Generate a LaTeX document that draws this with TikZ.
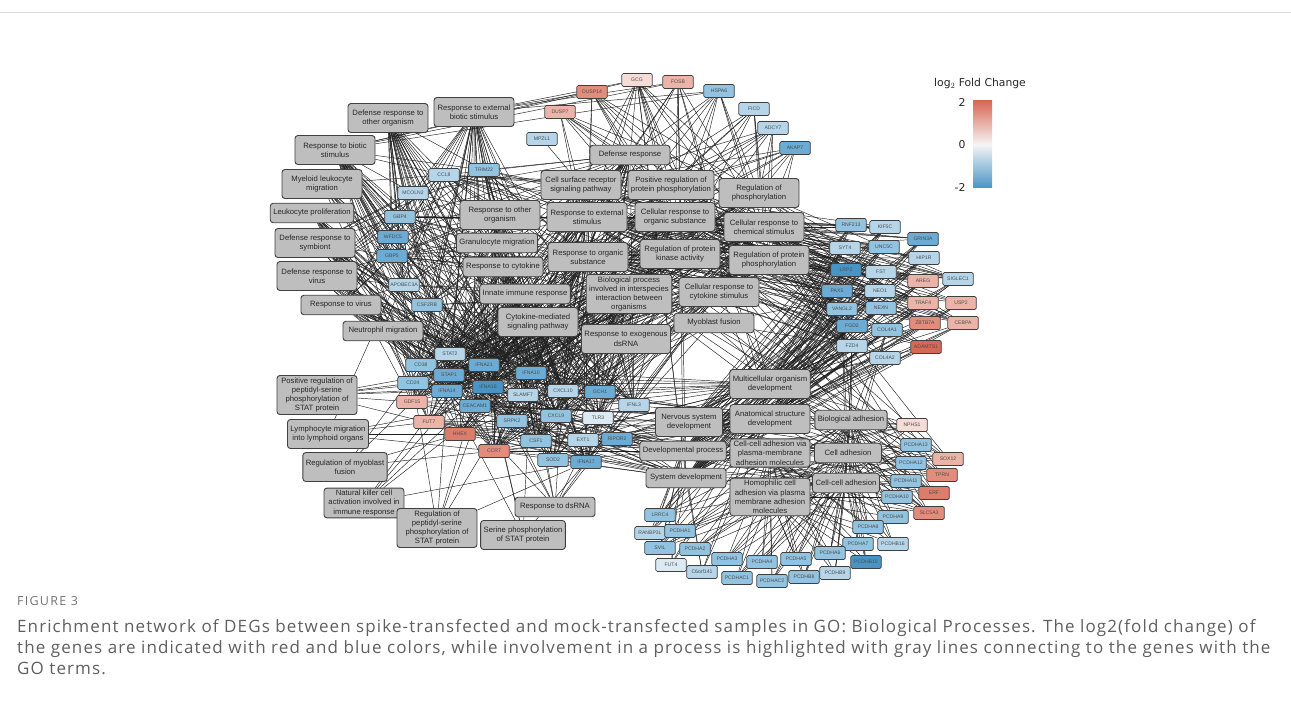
\documentclass[tikz,border=0pt]{standalone}
\usepackage{fontspec}
\setmainfont{Liberation Sans}
\newfontfamily\capfont[LetterSpace=6.5]{Open Sans}
\newfontfamily\fignofont[LetterSpace=10]{Open Sans}
\newfontfamily\legfont{DejaVu Sans}
\usetikzlibrary{backgrounds}

\definecolor{termfill}{HTML}{BEBEBE}
\definecolor{b1}{HTML}{DCEAF3}
\definecolor{b2}{HTML}{B6D5E9}
\definecolor{b3}{HTML}{92C3E0}
\definecolor{b4}{HTML}{6CABD3}
\definecolor{b5}{HTML}{4894C5}
\definecolor{r1}{HTML}{F5DCD7}
\definecolor{r2}{HTML}{ECB4A8}
\definecolor{r3}{HTML}{E28C7C}
\definecolor{r35}{HTML}{DD7C6B}
\definecolor{r4}{HTML}{D86856}
\definecolor{captext}{HTML}{5F5F5F}

\begin{document}
\begin{tikzpicture}[
    x=1pt, y=-1pt,
    term/.style={rectangle, rounded corners=3pt, draw=black!75, line width=0.9pt, fill=termfill,
                 minimum width=80pt, minimum height=19.5pt, inner xsep=3pt, inner ysep=2pt,
                 align=center, font=\fontsize{7.7}{9.3}\selectfont, text=black!85},
    tterm/.style={term, minimum height=29pt},
    gene/.style={rectangle, rounded corners=1.5pt, draw=black!75, line width=0.7pt,
                 minimum width=30.5pt, minimum height=13pt, inner sep=0pt,
                 font=\fontsize{5.1}{5.5}\selectfont, text=black!70},
    link/.style={draw=black!88, line width=0.45pt}
]
\useasboundingbox (0,0) rectangle (1291,722);
\draw[black!15, line width=0.8pt] (0,12) -- (1291,12);

% GO terms, left side
\node[tterm] (droo) at (388,118) {Defense response to\\other organism};
\node[tterm] (rebs) at (474,112) {Response to external\\biotic stimulus};
\node[tterm] (rbio) at (335,150) {Response to biotic\\stimulus};
\node[tterm] (mlm) at (322,184) {Myeloid leukocyte\\migration};
\node[term] (lprol) at (312,213) {Leukocyte proliferation};
\node[tterm] (drsym) at (315,243) {Defense response to\\symbiont};
\node[tterm] (drvir) at (317,276) {Defense response to\\virus};
\node[term] (rvir) at (341,305) {Response to virus};
\node[term] (nmig) at (383,331) {Neutrophil migration};
\node[term] (prstat) at (317,395) {Positive regulation of\\peptidyl-serine\\phosphorylation of\\STAT protein};
\node[tterm] (lymig) at (328,434) {Lymphocyte migration\\into lymphoid organs};
\node[tterm] (rmyof) at (345,467) {Regulation of myoblast\\fusion};
\node[term] (nkc) at (364,503) {Natural killer cell\\activation involved in\\immune response};
\node[term] (rstat) at (437,528) {Regulation of\\peptidyl-serine\\phosphorylation of\\STAT protein};
\node[tterm] (sstat) at (523,535) {Serine phosphorylation\\of STAT protein};
\node[term] (rds) at (555,507) {Response to dsRNA};

% GO terms, centre
\node[term] (defr) at (630,155) {Defense response};
\node[tterm] (csrs) at (581,185) {Cell surface receptor\\signaling pathway};
\node[tterm] (prpp) at (671,185) {Positive regulation of\\protein phosphorylation};
\node[tterm] (rphos) at (759,193) {Regulation of\\phosphorylation};
\node[tterm] (rother) at (500,215) {Response to other\\organism};
\node[tterm] (rext) at (587,217) {Response to external\\stimulus};
\node[tterm] (cros) at (675,217) {Cellular response to\\organic substance};
\node[tterm] (crchem) at (764,227) {Cellular response to\\chemical stimulus};
\node[term] (gmig) at (497,243) {Granulocyte migration};
\node[tterm] (rorg) at (588,257) {Response to organic\\substance};
\node[tterm] (rpka) at (680,254) {Regulation of protein\\kinase activity};
\node[tterm] (rpp) at (769,260) {Regulation of protein\\phosphorylation};
\node[term] (rcyt) at (503,267) {Response to cytokine};
\node[term] (innate) at (525,294) {Innate immune response};
\node[term] (bpint) at (629,294) {Biological process\\involved in interspecies\\interaction between\\organisms};
\node[tterm] (crcyt) at (719,292) {Cellular response to\\cytokine stimulus};
\node[tterm] (cytsig) at (538,322) {Cytokine-mediated\\signaling pathway};
\node[term] (myof) at (714,323) {Myoblast fusion};
\node[tterm] (rexo) at (626,339) {Response to exogenous\\dsRNA};

% GO terms, development and adhesion
\node[tterm] (mcod) at (770,384) {Multicellular organism\\development};
\node[tterm] (asd) at (770,419) {Anatomical structure\\development};
\node[term] (ccpm) at (770,453) {Cell-cell adhesion via\\plasma-membrane\\adhesion molecules};
\node[term] (homo) at (770,497) {Homophilic cell\\adhesion via plasma\\membrane adhesion\\molecules};
\node[tterm, minimum width=67pt] (nsd) at (689,422) {Nervous system\\development};
\node[term] (devp) at (683,451) {Developmental process};
\node[term] (sysd) at (686,478) {System development};
\node[term, minimum width=72pt] (badh) at (851,420) {Biological adhesion};
\node[term, minimum width=67pt] (cadh) at (848,453) {Cell adhesion};
\node[term, minimum width=67pt] (ccadh) at (846,483) {Cell-cell adhesion};

% genes, top
\node[gene, fill=b2] (mpzl1) at (542,139) {MPZL1};
\node[gene, fill=r2] (dusp7) at (560,112) {DUSP7};
\node[gene, fill=r3] (dusp14) at (592,92) {DUSP14};
\node[gene, fill=r1] (gcg) at (637,80) {GCG};
\node[gene, fill=r2] (fosb) at (678,82) {FOSB};
\node[gene, fill=b3] (hspa6) at (719,91) {HSPA6};
\node[gene, fill=b2] (ficd) at (754,109) {FICD};
\node[gene, fill=b2] (adcy7) at (773,128) {ADCY7};
\node[gene, fill=b4] (akap7) at (795,148) {AKAP7};

% genes, immune cluster
\node[gene, fill=b2] (ccl8) at (444,175) {CCL8};
\node[gene, fill=b3] (trim22) at (484,170) {TRIM22};
\node[gene, fill=b2] (mcoln2) at (413,193) {MCOLN2};
\node[gene, fill=b3] (gbp4) at (400,217) {GBP4};
\node[gene, fill=b4] (wfdc5) at (393,237) {WFDC5};
\node[gene, fill=b4] (gbp5) at (392,256) {GBP5};
\node[gene, fill=b2] (apobec3a) at (404,285) {APOBEC3A};
\node[gene, fill=b3] (csf2rb) at (427,305) {CSF2RB};
\node[gene, fill=b2] (stat2) at (450,354) {STAT2};
\node[gene, fill=b3] (cd38) at (421,365) {CD38};
\node[gene, fill=b4] (ifna21) at (484,365) {IFNA21};
\node[gene, fill=b4] (stap1) at (449,375) {STAP1};
\node[gene, fill=b3] (cd24) at (413,383) {CD24};
\node[gene, fill=b4] (ifna14) at (447,391) {IFNA14};
\node[gene, fill=b5] (ifna16) at (488,387) {IFNA16};
\node[gene, fill=b4] (ifna10) at (531,373) {IFNA10};
\node[gene, fill=b2] (slamf7) at (523,395) {SLAMF7};
\node[gene, fill=b2] (cxcl10) at (563,391) {CXCL10};
\node[gene, fill=r2] (gdf15) at (412,402) {GDF15};
\node[gene, fill=b4] (ceacam1) at (475,406) {CEACAM1};
\node[gene, fill=r2] (fut7) at (429,422) {FUT7};
\node[gene, fill=b3] (srpk2) at (512,421) {SRPK2};
\node[gene, fill=b3] (cxcl9) at (556,416) {CXCL9};
\node[gene, fill=r35] (hhex) at (460,434) {HHEX};
\node[gene, fill=r3] (ccr7) at (494,451) {CCR7};
\node[gene, fill=b3] (csf1) at (536,441) {CSF1};
\node[gene, fill=b3] (sod2) at (553,460) {SOD2};
\node[gene, fill=b4] (ifna17) at (586,462) {IFNA17};
\node[gene, fill=b2] (ext1) at (583,440) {EXT1};
\node[gene, fill=b4] (ripor2) at (617,439) {RIPOR2};
\node[gene, fill=b1] (tlr3) at (598,418) {TLR3};
\node[gene, fill=b4] (gch1) at (600,392) {GCH1};
\node[gene, fill=b2] (ifnl3) at (634,405) {IFNL3};

% genes, right cluster
\node[gene, fill=b3] (rnf213) at (851,225) {RNF213};
\node[gene, fill=b2] (kif5c) at (885,227) {KIF5C};
\node[gene, fill=b4] (grin3a) at (923,239) {GRIN3A};
\node[gene, fill=b2] (syt4) at (845,248) {SYT4};
\node[gene, fill=b3] (unc5c) at (884,247) {UNC5C};
\node[gene, fill=b2] (hip1r) at (924,258) {HIP1R};
\node[gene, fill=b5] (lrp2) at (846,270) {LRP2};
\node[gene, fill=b2] (fst) at (881,272) {FST};
\node[gene, fill=r2] (areg) at (923,281) {AREG};
\node[gene, fill=b2] (siglec1) at (958,279) {SIGLEC1};
\node[gene, fill=b4] (pax5) at (837,291) {PAX5};
\node[gene, fill=b2] (neo1) at (880,291) {NEO1};
\node[gene, fill=r2] (traf4) at (923,303) {TRAF4};
\node[gene, fill=r2] (usp2) at (961,303) {USP2};
\node[gene, fill=b3] (vangl2) at (842,309) {VANGL2};
\node[gene, fill=b3] (nexn) at (881,308) {NEXN};
\node[gene, fill=b4] (fgd2) at (852,326) {FGD2};
\node[gene, fill=b3] (col4a1) at (887,330) {COL4A1};
\node[gene, fill=r3] (zbtb7a) at (925,323) {ZBTB7A};
\node[gene, fill=r2] (cebpa) at (963,323) {CEBPA};
\node[gene, fill=b2] (fzd4) at (852,346) {FZD4};
\node[gene, fill=b2] (col4a2) at (885,358) {COL4A2};
\node[gene, fill=r4] (adamts1) at (926,347) {ADAMTS1};

% genes, lower right
\node[gene, fill=r1] (nphs1) at (912,425) {NPHS1};
\node[gene, fill=b3] (pcdha13) at (916,445) {PCDHA13};
\node[gene, fill=r2] (sox12) at (948,459) {SOX12};
\node[gene, fill=b3] (pcdha12) at (911,463) {PCDHA12};
\node[gene, fill=r3] (tprn) at (942,475) {TPRN};
\node[gene, fill=b3] (pcdha11) at (906,481) {PCDHA11};
\node[gene, fill=r35] (erf) at (934,493) {ERF};
\node[gene, fill=b3] (pcdha10) at (897,497) {PCDHA10};
\node[gene, fill=r3] (slc5a3) at (929,513) {SLC5A3};
\node[gene, fill=b3] (pcdha9) at (893,517) {PCDHA9};
\node[gene, fill=b3] (pcdha8) at (868,527) {PCDHA8};
\node[gene, fill=b3] (pcdha7) at (858,544) {PCDHA7};
\node[gene, fill=b2] (pcdhb16) at (893,544) {PCDHB16};
\node[gene, fill=b3] (pcdha6) at (830,553) {PCDHA6};
\node[gene, fill=b5] (pcdhb10) at (866,562) {PCDHB10};
\node[gene, fill=b2] (pcdhb9) at (835,573) {PCDHB9};
\node[gene, fill=b3] (pcdhb8) at (804,577) {PCDHB8};

% genes, bottom
\node[gene, fill=b3] (lrrc4) at (660,515) {LRRC4};
\node[gene, fill=b2] (ranbp3l) at (650,533) {RANBP3L};
\node[gene, fill=b3] (pcdha1) at (680,531) {PCDHA1};
\node[gene, fill=b3] (svil) at (660,548) {SVIL};
\node[gene, fill=b3] (pcdha2) at (695,549) {PCDHA2};
\node[gene, fill=b1] (fut4) at (671,565) {FUT4};
\node[gene, fill=b2] (c6orf141) at (702,572) {C6orf141};
\node[gene, fill=b3] (pcdha3) at (727,559) {PCDHA3};
\node[gene, fill=b3] (pcdha4) at (762,562) {PCDHA4};
\node[gene, fill=b3] (pcdhac1) at (737,578) {PCDHAC1};
\node[gene, fill=b3] (pcdhac2) at (772,581) {PCDHAC2};
\node[gene, fill=b3] (pcdha5) at (796,559) {PCDHA5};

% links gene -- term
\begin{pgfonlayer}{background}
\foreach \t in {droo,rebs,rbio,rother,bpint,defr}
  \foreach \g in {ccl8,trim22,mcoln2,gbp4,wfdc5,gbp5,apobec3a,stat2,cd38,ifna21,ifna14,ifna16,ifna10,ifna17,slamf7,cxcl10,cxcl9,tlr3,ifnl3,ceacam1,stap1,gch1,csf2rb,cd24,ccr7,sod2,csf1,srpk2,hhex,fut7,gdf15}
    \draw[link] (\t) -- (\g);
\foreach \t in {rebs,rbio,defr}
  \foreach \g in {hspa6,fosb,dusp14,gcg}
    \draw[link] (\t) -- (\g);
\foreach \t in {drsym,drvir,rvir}
  \foreach \g in {trim22,apobec3a,stat2,ifna21,ifna14,ifna16,ifna10,ifna17,ifnl3,tlr3,mcoln2,gbp5,cxcl10,gch1,ccl8,srpk2,gbp4,cd38}
    \draw[link] (\t) -- (\g);
\foreach \g in {ccl8,trim22,gbp4,gbp5,wfdc5,apobec3a,stat2,ifna21,ifna14,ifna16,ifna10,ifna17,slamf7,cxcl10,cxcl9,tlr3,ifnl3,ceacam1,csf1,mcoln2,stap1,cd38}
  \draw[link] (innate) -- (\g);
\foreach \t in {rcyt,cytsig,crcyt}
  \foreach \g in {ccl8,trim22,gbp4,gbp5,csf2rb,stat2,cd38,ifna21,ifna14,ifna16,ifna10,ifna17,cxcl10,cxcl9,ccr7,csf1,sod2,ifnl3,gch1,stap1,slamf7,cd24}
    \draw[link] (\t) -- (\g);
\foreach \t in {mlm,gmig,nmig}
  \foreach \g in {ccl8,cxcl10,cxcl9,ccr7,csf1,fut7,ripor2,ceacam1,slamf7,csf2rb}
    \draw[link] (\t) -- (\g);
\foreach \g in {cd38,cd24,ccr7,csf1,ifna21,ifna14,ifna16,ifna10,ifna17,stap1,hhex,slamf7,gdf15,sod2}
  \draw[link] (lprol) -- (\g);
\foreach \g in {ccr7,fut7,ccl8,cxcl10,hhex}
  \draw[link] (lymig) -- (\g);
\foreach \t in {prstat,rstat,sstat,nkc}
  \foreach \g in {ifna21,ifna14,ifna16,ifna10,ifna17}
    \draw[link] (\t) -- (\g);
\foreach \g in {cd24,gdf15} \draw[link] (prstat) -- (\g);
\draw[link] (rstat) -- (cd24);
\foreach \g in {hhex,ccr7,gdf15,cd38} \draw[link] (rmyof) -- (\g);
\foreach \g in {hhex,ccr7,gdf15,neo1,fzd4,cd38} \draw[link] (myof) -- (\g);
\foreach \t in {rds,rexo}
  \foreach \g in {tlr3,ifna21,ifna14,ifna16,ifna10,ifna17,cxcl10,ifnl3,trim22}
    \draw[link] (\t) -- (\g);
\foreach \t in {prpp,rphos,rpp,rpka}
  \foreach \g in {gcg,ficd,akap7,areg,gdf15,ccl8,ccr7,csf1,ifna21,ifna14,ifna16,ifna10,ifna17,cd24,traf4,fzd4,srpk2,stap1,dusp7,dusp14,adcy7,hspa6,cd38,siglec1,lrp2,cebpa,zbtb7a}
    \draw[link] (\t) -- (\g);
\foreach \t in {rorg,cros,crchem,rext}
  \foreach \g in {gcg,fosb,dusp7,dusp14,hspa6,adcy7,akap7,ficd,ccl8,trim22,gbp4,gbp5,stat2,cd38,ifna21,ifna14,ifna16,ifna10,ifna17,cxcl10,cxcl9,tlr3,ccr7,csf1,sod2,gch1,ifnl3,gdf15,hhex,fut7,ceacam1,lrp2,fst,areg,neo1,zbtb7a,cebpa,adamts1,col4a1,col4a2,fzd4,traf4,usp2,grin3a,syt4,hip1r,siglec1,slc5a3,erf,sox12,rnf213,kif5c,unc5c,pax5,vangl2,nexn,fgd2,tprn}
    \draw[link] (\t) -- (\g);
\foreach \g in {mpzl1,ccl8,csf2rb,stat2,cd38,ifna21,ifna14,ifna16,ifna10,ifna17,cxcl10,cxcl9,ccr7,csf1,tlr3,ifnl3,slamf7,ceacam1,fzd4,lrp2,unc5c,neo1,fst,areg,traf4,gdf15,adcy7,akap7,gcg,siglec1,kif5c}
  \draw[link] (csrs) -- (\g);
\foreach \t in {mcod,asd,devp,sysd}
  \foreach \g in {rnf213,kif5c,grin3a,syt4,unc5c,hip1r,lrp2,fst,areg,pax5,neo1,vangl2,nexn,fgd2,col4a1,zbtb7a,cebpa,fzd4,col4a2,adamts1,sox12,erf,tprn,slc5a3,lrrc4,svil,ext1,ripor2,hhex,ccr7,csf1,gdf15,nphs1,cd24,ceacam1,sod2,fosb,gcg,ranbp3l,fut4,c6orf141,traf4,usp2,siglec1,cd38,fut7,stap1,cxcl10}
    \draw[link] (\t) -- (\g);
\foreach \g in {kif5c,grin3a,syt4,unc5c,hip1r,lrp2,pax5,neo1,vangl2,fzd4,col4a1,lrrc4,ext1,tprn,slc5a3,sox12,nexn,rnf213,svil,fgd2}
  \draw[link] (nsd) -- (\g);
\foreach \t in {badh,cadh,ccadh,ccpm,homo}
  \foreach \g in {pcdha1,pcdha2,pcdha3,pcdha4,pcdha5,pcdha6,pcdha7,pcdha8,pcdha9,pcdha10,pcdha11,pcdha12,pcdha13,pcdhac1,pcdhac2,pcdhb8,pcdhb9,pcdhb10,pcdhb16}
    \draw[link] (\t) -- (\g);
\foreach \t in {badh,cadh,ccadh}
  \foreach \g in {nphs1,ceacam1,cd24,ccr7,fut7,ripor2,svil,vangl2,lrrc4,col4a1,fzd4}
    \draw[link] (\t) -- (\g);
\draw[link] (ccpm) -- (nphs1);
\end{pgfonlayer}

% colour legend
\node[font=\legfont\fontsize{10.8}{12}\selectfont, text=black!85] (legtitle) at (980,84) {log$_2$ Fold Change};
\shade[top color=r4, bottom color=b5, middle color=white!96!black] (973,101) rectangle (992,188);
\node[font=\legfont\fontsize{10.8}{12}\selectfont, text=black!85, anchor=east] (legmax) at (969,102) {2};
\node[font=\legfont\fontsize{10.8}{12}\selectfont, text=black!85, anchor=east] (legmid) at (969,145) {0};
\node[font=\legfont\fontsize{10.8}{12}\selectfont, text=black!85, anchor=east] (legmin) at (969,187) {-2};

% caption
\node[font=\fignofont\fontsize{12.5}{14}\selectfont, text=black!55, anchor=west, inner sep=0pt] (figno) at (17,601) {FIGURE 3};
\node[font=\capfont\fontsize{17}{21.2}\selectfont, text=captext, anchor=north west, align=left, inner sep=0pt] (caption) at (17,619)
  {Enrichment network of DEGs between spike-transfected and mock-transfected samples in GO: Biological Processes. The log2(fold change) of\\
   the genes are indicated with red and blue colors, while involvement in a process is highlighted with gray lines connecting to the genes with the\\
   GO terms.};
\end{tikzpicture}
\end{document}
